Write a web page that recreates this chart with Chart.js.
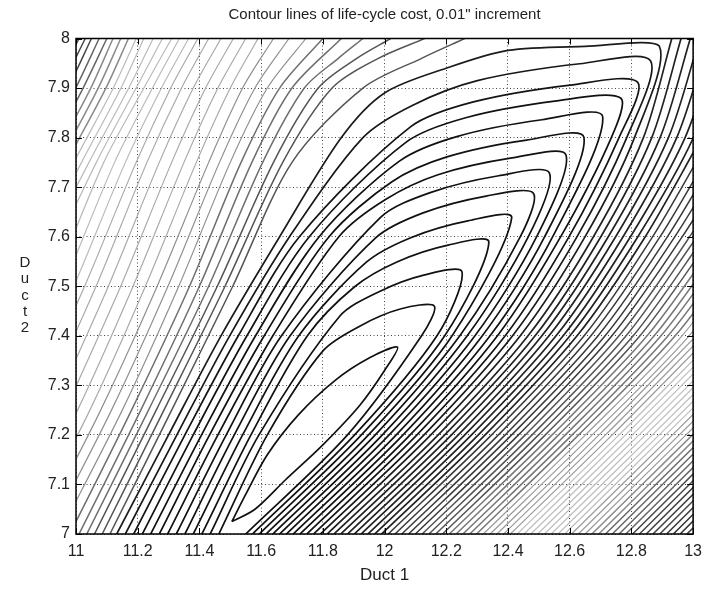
<!DOCTYPE html>
<html><head><meta charset="utf-8">
<script src="https://cdn.jsdelivr.net/npm/chart.js@4.4.0/dist/chart.umd.min.js"></script>
<style>html,body{margin:0;padding:0;background:#fff}#wrap{width:710px;height:589px}</style>
</head><body><div id="wrap"><canvas id="c" width="710" height="589"></canvas></div>
<script>
const titleText = 'Contour lines of life-cycle cost, 0.01" increment';
const xAxisLabel = 'Duct 1';
const yAxisLabel = 'Duct 2';
const xTickValues = [11, 11.2, 11.4, 11.6, 11.8, 12, 12.2, 12.4, 12.6, 12.8, 13];
const xTickLabels = ['11','11.2','11.4','11.6','11.8','12','12.2','12.4','12.6','12.8','13'];
const yTickValues = [7, 7.1, 7.2, 7.3, 7.4, 7.5, 7.6, 7.7, 7.8, 7.9, 8];
const yTickLabels = ['7','7.1','7.2','7.3','7.4','7.5','7.6','7.7','7.8','7.9','8'];

// innermost closed contour (Duct 1, Duct 2)
const innerLoop = [[11.505,7.025],[11.55,7.08],[11.62,7.16],[11.72,7.24],[11.84,7.31],[11.95,7.355],[12.042,7.377],[12.0,7.33],[11.92,7.26],[11.8,7.18],[11.68,7.11],[11.58,7.05],[11.505,7.025]];

// nested hairpin contours with a visible tip (upper arm -> tip -> lower arm)
const hairpins = [
 [[11.463,7.0],[11.62,7.2],[11.801,7.37],[11.921,7.42],[12.051,7.454],[12.161,7.46],[12.12,7.4],[11.88,7.2],[11.55,7.0]],
 [[11.435,7.0],[11.593,7.2],[11.854,7.439],[11.982,7.489],[12.13,7.523],[12.251,7.529],[12.17,7.4],[11.903,7.2],[11.572,7.0]],
 [[11.408,7.0],[11.567,7.2],[11.75,7.4],[11.903,7.499],[12.04,7.549],[12.206,7.583],[12.338,7.589],[12.195,7.4],[11.925,7.2],[11.594,7.0]],
 [[11.38,7.0],[11.54,7.2],[11.722,7.4],[11.94,7.548],[12.085,7.598],[12.27,7.632],[12.412,7.638],[12.219,7.4],[11.948,7.2],[11.616,7.0]],
 [[11.353,7.0],[11.513,7.2],[11.694,7.4],[11.972,7.598],[12.125,7.648],[12.329,7.682],[12.482,7.688],[12.44,7.6],[12.244,7.4],[11.97,7.2],[11.638,7.0]],
 [[11.325,7.0],[11.487,7.2],[11.666,7.4],[11.987,7.639],[12.148,7.689],[12.37,7.723],[12.534,7.729],[12.466,7.6],[12.268,7.4],[11.993,7.2],[11.66,7.0]],
 [[11.297,7.0],[11.46,7.2],[11.638,7.4],[11.852,7.6],[12.003,7.675],[12.173,7.725],[12.413,7.759],[12.588,7.765],[12.493,7.6],[12.293,7.4],[12.015,7.2],[11.682,7.0]],
 [[11.27,7.0],[11.433,7.2],[11.61,7.4],[11.82,7.6],[12.024,7.711],[12.202,7.761],[12.46,7.795],[12.646,7.801],[12.519,7.6],[12.317,7.4],[12.038,7.2],[11.704,7.0]],
 [[11.242,7.0],[11.407,7.2],[11.582,7.4],[11.788,7.6],[12.047,7.752],[12.234,7.802],[12.51,7.836],[12.707,7.842],[12.545,7.6],[12.342,7.4],[12.06,7.2],[11.726,7.0]],
 [[11.215,7.0],[11.38,7.2],[11.554,7.4],[11.756,7.6],[12.068,7.79],[12.263,7.84],[12.558,7.874],[12.765,7.88],[12.735,7.8],[12.571,7.6],[12.366,7.4],[12.083,7.2],[11.748,7.0]],
 [[11.187,7.0],[11.353,7.2],[11.526,7.4],[11.724,7.6],[12.085,7.822],[12.288,7.872],[12.602,7.906],[12.82,7.912],[12.76,7.8],[12.598,7.6],[12.391,7.4],[12.105,7.2],[11.77,7.0]],
 [[11.16,7.0],[11.327,7.2],[11.498,7.4],[11.692,7.6],[11.93,7.8],[12.09,7.865],[12.301,7.915],[12.633,7.949],[12.862,7.955],[12.785,7.8],[12.624,7.6],[12.415,7.4],[12.128,7.2],[11.792,7.0]],
 [[11.132,7.0],[11.30,7.2],[11.47,7.4],[11.66,7.6],[11.86,7.8],[12.0,7.89],[12.2,7.94],[12.4,7.976],[12.65,7.984],[12.89,7.985],[12.81,7.8],[12.65,7.6],[12.44,7.4],[12.15,7.2],[11.814,7.0]]
];
const hairpinShade = ['#111','#111','#111','#111','#111','#111','#111','#111','#111','#111','#141414','#181818','#1c1c1c'];

// open contours left of the valley: Duct 1 value where each crosses these Duct 2 rows
const leftRowY = [7.0, 7.25, 7.5, 7.75, 7.9, 7.96, 8.0];
const leftBranchX = [
 [11.11,11.31,11.508,11.70,11.93,12.12,12.26],
 [11.085,11.285,11.483,11.67,11.83,11.98,12.13],
 [11.06,11.26,11.458,11.64,11.785,11.91,12.02],
 [11.035,11.235,11.43,11.605,11.74,11.85,11.93],
 [11.01,11.21,11.40,11.57,11.70,null,11.86],
 [10.98,11.18,11.368,11.535,11.66,null,11.80],
 [10.945,11.15,11.333,11.50,11.62,null,11.745],
 [10.91,11.115,11.298,11.465,11.58,null,11.69],
 [10.875,11.08,11.263,11.43,11.54,null,11.64],
 [10.84,11.045,11.225,11.39,11.50,null,11.59],
 [10.80,11.005,11.185,11.35,11.46,null,11.55],
 [null,10.965,11.145,11.31,11.42,null,11.51],
 [null,10.925,11.105,11.27,11.38,null,11.47],
 [null,10.885,11.065,11.23,11.342,null,11.43],
 [null,10.845,11.028,11.195,11.307,null,11.395],
 [null,10.81,10.993,11.16,11.277,null,11.365],
 [null,10.775,10.958,11.125,11.248,null,11.335],
 [null,10.74,10.923,11.09,11.22,null,11.31],
 [null,null,10.876,11.066,11.195,null,11.28],
 [null,null,10.835,11.042,11.171,null,11.25],
 [null,null,10.812,11.018,11.146,null,11.22],
 [null,null,10.789,10.993,11.121,null,11.195],
 [null,null,10.765,10.969,11.097,null,11.17],
 [null,null,10.742,10.945,11.072,null,11.145],
 [null,null,10.719,10.921,11.048,null,11.12],
 [null,null,10.695,10.897,11.023,null,11.10],
 [null,null,10.672,10.873,10.999,null,11.075],
 [null,null,10.649,10.848,10.974,null,11.05],
 [null,null,10.625,10.824,10.95,null,11.03],
 [null,null,10.602,10.80,10.925,null,11.01]
];
const leftShade = ['#555','#555','#555','#6f6f6f','#6f6f6f','#6f6f6f','#909090','#909090','#909090','#aaaaaa','#aaaaaa','#aaaaaa','#aaaaaa','#aaaaaa','#aaaaaa','#bababa','#bababa','#bababa','#bababa','#bababa','#bababa','#bababa','#8a8a8a','#8a8a8a','#8a8a8a','#666','#666','#484848','#484848','#484848'];

// open contours right of the valley: Duct 1 value where each crosses these Duct 2 rows
const rightRowY = [7.0, 7.2, 7.4, 7.6, 7.8, 8.0];
const rightBranchX = [
 [11.836,12.174,12.465,12.677,12.839,12.931],
 [11.858,12.195,12.488,12.701,12.866,12.961],
 [11.88,12.217,12.51,12.725,12.893,12.991],
 [11.902,12.239,12.533,12.749,12.92,13.021],
 [11.924,12.26,12.556,12.773,12.947,13.051],
 [11.946,12.282,12.579,12.797,12.974,13.081],
 [11.968,12.304,12.601,12.821,13.001,13.111],
 [11.99,12.326,12.624,12.845,13.028],
 [12.012,12.347,12.647,12.869,13.055],
 [12.034,12.369,12.669,12.893,13.082],
 [12.056,12.391,12.692,12.917,13.109],
 [12.078,12.412,12.715,12.941,13.136],
 [12.1,12.434,12.737,12.965,13.163],
 [12.122,12.456,12.76,12.989,13.19],
 [12.144,12.478,12.783,13.013],
 [12.166,12.499,12.806,13.037],
 [12.188,12.521,12.828,13.061],
 [12.21,12.543,12.851,13.085],
 [12.232,12.564,12.874,13.109],
 [12.254,12.586,12.896,13.133],
 [12.276,12.608,12.919,13.157],
 [12.298,12.629,12.942,13.181],
 [12.32,12.651,12.964,13.205],
 [12.342,12.673,12.987,13.229],
 [12.364,12.695,13.01],
 [12.386,12.716,13.033],
 [12.408,12.738,13.055],
 [12.43,12.76,13.078],
 [12.452,12.781,13.101],
 [12.474,12.803,13.123],
 [12.496,12.825,13.146],
 [12.518,12.846,13.169],
 [12.54,12.868,13.191],
 [12.562,12.89,13.214],
 [12.584,12.911,13.237],
 [12.606,12.933,13.26],
 [12.628,12.955,13.282],
 [12.65,12.977,13.305],
 [12.672,12.998,13.328],
 [12.694,13.02],[12.716,13.042],[12.738,13.063],[12.76,13.085],[12.782,13.107],[12.804,13.128],[12.826,13.15],
 [12.848,13.172],[12.87,13.194],[12.892,13.215],[12.914,13.237],[12.936,13.259],[12.958,13.28],[12.98,13.302]
];
const rightShade = ['#222','#222','#222','#222','#222','#222','#222','#222','#3a3a3a','#3a3a3a','#3a3a3a','#3a3a3a','#3a3a3a','#555','#555','#555','#555','#777','#777','#777','#777','#777','#9a9a9a','#9a9a9a','#9a9a9a','#9a9a9a','#9a9a9a','#bdbdbd','#bdbdbd','#bdbdbd','#bdbdbd','#bdbdbd','#bdbdbd','#bdbdbd','#bdbdbd','#999','#999','#999','#8a8a8a','#8a8a8a','#6a6a6a','#6a6a6a','#666','#666','#4a4a4a','#4a4a4a','#444','#444','#444','#383838','#333','#333','#333'];

const FONT = "'Liberation Sans', Arial, sans-serif";
const datasets = [];
function addLine(points, color) {
  const level = parseInt(color.slice(1, 2), 16);
  datasets.push({
    data: points.map(p => ({x: p[0], y: p[1]})),
    borderColor: color, borderWidth: level >= 9 ? 1.2 : (level <= 2 ? 1.7 : 1.5), pointRadius: 0, showLine: true,
    tension: 0.3, fill: false, clip: 0
  });
}
addLine(innerLoop, '#111');
hairpins.forEach((h, i) => addLine(h, hairpinShade[i]));
leftBranchX.forEach((row, i) => {
  const pts = [];
  row.forEach((x, j) => { if (x !== null && x !== undefined) pts.push([x, leftRowY[j]]); });
  addLine(pts, leftShade[i]);
});
rightBranchX.forEach((row, i) => {
  const pts = [];
  row.forEach((x, j) => { if (x !== null && x !== undefined) pts.push([x, rightRowY[j]]); });
  addLine(pts, rightShade[i]);
});

const frameTicks = {
  id: 'frameTicks',
  afterDatasetsDraw(chart) {
    const {ctx, chartArea: a, scales} = chart;
    ctx.save();
    ctx.strokeStyle = '#000';
    ctx.lineWidth = 1;
    ctx.beginPath();
    xTickValues.forEach(v => {
      const px = Math.round(scales.x.getPixelForValue(v)) + 0.5;
      ctx.moveTo(px, a.bottom); ctx.lineTo(px, a.bottom - 6);
      ctx.moveTo(px, a.top); ctx.lineTo(px, a.top + 6);
    });
    yTickValues.forEach(v => {
      const py = Math.round(scales.y.getPixelForValue(v)) + 0.5;
      ctx.moveTo(a.left, py); ctx.lineTo(a.left + 6, py);
      ctx.moveTo(a.right, py); ctx.lineTo(a.right - 6, py);
    });
    ctx.stroke();
    ctx.lineWidth = 1.5;
    ctx.strokeRect(a.left, a.top, a.right - a.left, a.bottom - a.top);
    ctx.restore();
  },
  afterDraw(chart) {
    const {ctx, chartArea: a} = chart;
    ctx.save();
    ctx.fillStyle = '#222';
    ctx.textAlign = 'center';
    ctx.textBaseline = 'middle';
    ctx.font = '15px ' + FONT;
    ctx.fillText(titleText, (a.left + a.right) / 2, 15);
    const letters = yAxisLabel.replace(/\s+/g, '').split('');
    letters.forEach((ch, i) => ctx.fillText(ch, 25, 263 + i * 16.3));
    ctx.restore();
  }
};

new Chart(document.getElementById('c'), {
  type: 'scatter',
  data: { datasets },
  options: {
    responsive: false, animation: false, devicePixelRatio: 1, events: [],
    layout: { padding: { left: 0, right: 12, top: 38.5, bottom: 0 } },
    plugins: { legend: { display: false }, tooltip: { enabled: false }, title: { display: false } },
    scales: {
      x: {
        type: 'linear', min: 11, max: 13,
        afterBuildTicks: s => { s.ticks = xTickValues.map(v => ({ value: v })); },
        afterFit: s => { s.height = 55; },
        ticks: { callback: (v, i) => xTickLabels[i], color: '#222', font: { family: FONT, size: 16 }, padding: 8, autoSkip: false, maxRotation: 0 },
        grid: { color: '#444', lineWidth: 1, drawTicks: false },
        border: { display: false, dash: [1, 2.5] },
        title: { display: true, text: xAxisLabel, color: '#222', font: { family: FONT, size: 17 }, padding: { top: 0, bottom: 3 } }
      },
      y: {
        type: 'linear', min: 7, max: 8,
        afterBuildTicks: s => { s.ticks = yTickValues.map(v => ({ value: v })); },
        afterFit: s => { s.width = 76; },
        ticks: { callback: (v, i) => yTickLabels[i], color: '#222', font: { family: FONT, size: 16 }, padding: 6, autoSkip: false },
        grid: { color: '#444', lineWidth: 1, drawTicks: false },
        border: { display: false, dash: [1, 2.5] },
        title: { display: false }
      }
    }
  },
  plugins: [frameTicks]
});
</script>
</body></html>
